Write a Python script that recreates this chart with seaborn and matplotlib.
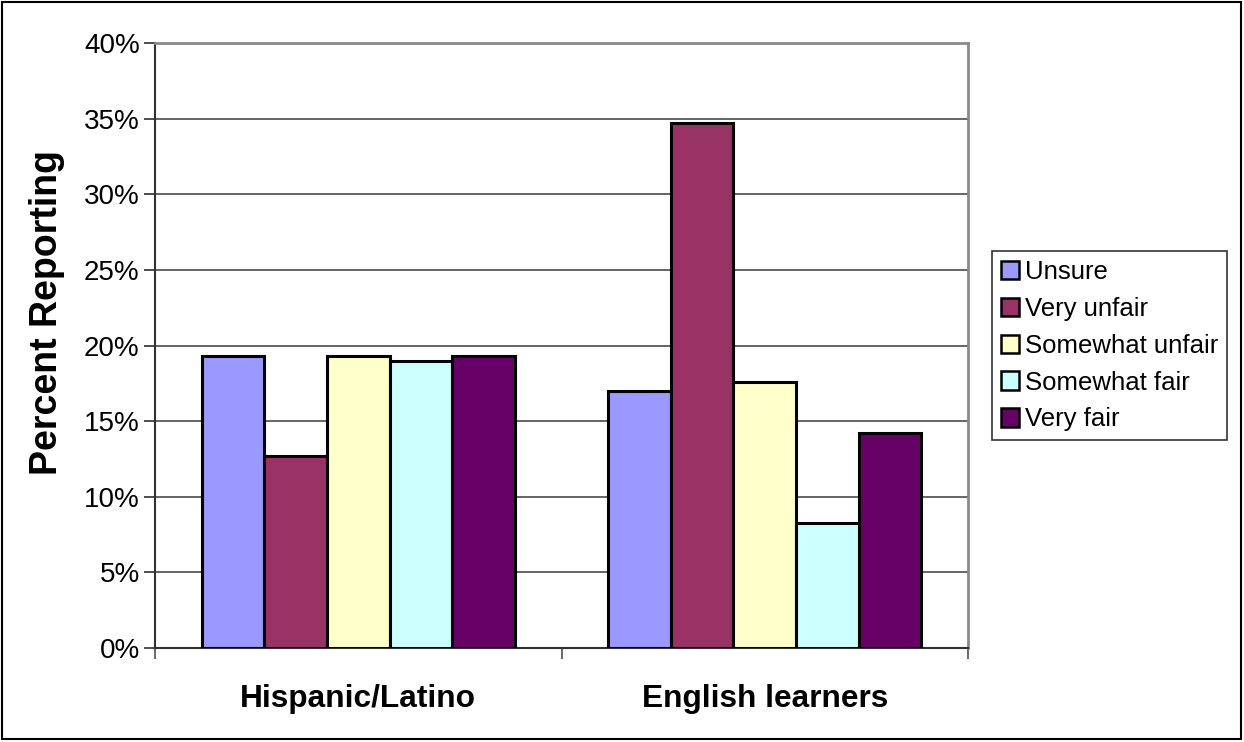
import matplotlib
matplotlib.use("Agg")
import matplotlib.pyplot as plt
import seaborn as sns
import pandas as pd
from matplotlib.patches import Patch, Rectangle
from matplotlib.ticker import FixedLocator, FuncFormatter

# Survey data: percent of respondents per fairness rating
groups = ["Hispanic/Latino", "English learners"]
ratings = ["Unsure", "Very unfair", "Somewhat unfair", "Somewhat fair", "Very fair"]
hispanic_latino = [19.3, 12.7, 19.3, 19.0, 19.3]
english_learners = [17.0, 34.7, 17.6, 8.25, 14.2]
colors = ["#9999FF", "#993366", "#FFFFCC", "#CCFFFF", "#660066"]
y_ticks = [0, 5, 10, 15, 20, 25, 30, 35, 40]

rows = []
for grp, vals in zip(groups, [hispanic_latino, english_learners]):
    for rating, v in zip(ratings, vals):
        rows.append({"group": grp, "rating": rating, "percent": v})
df = pd.DataFrame(rows)

sns.set_style("white")
plt.rcParams["font.family"] = ["Liberation Sans", "DejaVu Sans"]
plt.rcParams["text.color"] = "black"
plt.rcParams["axes.labelcolor"] = "black"
plt.rcParams["xtick.color"] = "black"
plt.rcParams["ytick.color"] = "black"

fig = plt.figure(figsize=(12.44, 7.42), dpi=100)
ax = fig.add_axes([155 / 1244, 1 - 648 / 742, (968 - 155) / 1244, (648 - 43) / 742])

sns.barplot(data=df, x="group", y="percent", hue="rating", order=groups,
            hue_order=ratings, palette=colors, width=0.77, gap=0,
            edgecolor="black", linewidth=2.2, saturation=1, legend=False,
            ax=ax, zorder=3)

ax.set_xlim(-0.5, 1.5)
ax.set_ylim(0, 40)
ax.yaxis.set_major_locator(FixedLocator(y_ticks))
ax.yaxis.set_major_formatter(FuncFormatter(lambda v, p: f"{v:.0f}%"))
ax.grid(axis="y", color="#3a3a3a", linewidth=1.1, zorder=0)
ax.set_axisbelow(True)

# category boundaries carry tick marks; names sit at the centres
ax.set_xticks([-0.5, 0.5, 1.5])
ax.set_xticklabels([])
ax.set_xticks([0, 1], minor=True)
ax.set_xticklabels(groups, minor=True, fontsize=22.8, fontweight="bold")
ax.tick_params(axis="x", which="major", direction="out", length=8,
               width=1.2, color="#505050", bottom=True)
ax.tick_params(axis="x", which="minor", length=0, pad=26)
ax.tick_params(axis="y", direction="out", length=8, width=1.2,
               color="#303030", left=True, labelsize=20, pad=3)

ax.set_xlabel("")
ax.set_ylabel("Percent Reporting", fontsize=27, fontweight="bold")
ax.yaxis.set_label_coords(-0.111, 0.555)

for side in ["top", "right"]:
    ax.spines[side].set_color("#8a8a8a")
    ax.spines[side].set_linewidth(2)
for side in ["left", "bottom"]:
    ax.spines[side].set_color("#303030")
    ax.spines[side].set_linewidth(1.5)

handles = [Patch(facecolor=c, edgecolor="black", linewidth=1.8) for c in colors]
leg = fig.legend(handles, ratings, loc="upper left",
                 bbox_to_anchor=(992 / 1244, 1 - 251 / 742),
                 fontsize=18.5, frameon=True, fancybox=False,
                 handlelength=0.72, handleheight=0.72, handletextpad=0.2,
                 labelspacing=0.5, borderpad=0.35, borderaxespad=0)
leg.get_frame().set_edgecolor("black")
leg.get_frame().set_linewidth(1.2)

# outer frame around the chart
fig.patches.append(Rectangle((2 / 1244, 3 / 742), 1239 / 1244, 737 / 742,
                             transform=fig.transFigure, fill=False,
                             edgecolor="black", linewidth=1.5))

fig.savefig("out.png", dpi=100)
